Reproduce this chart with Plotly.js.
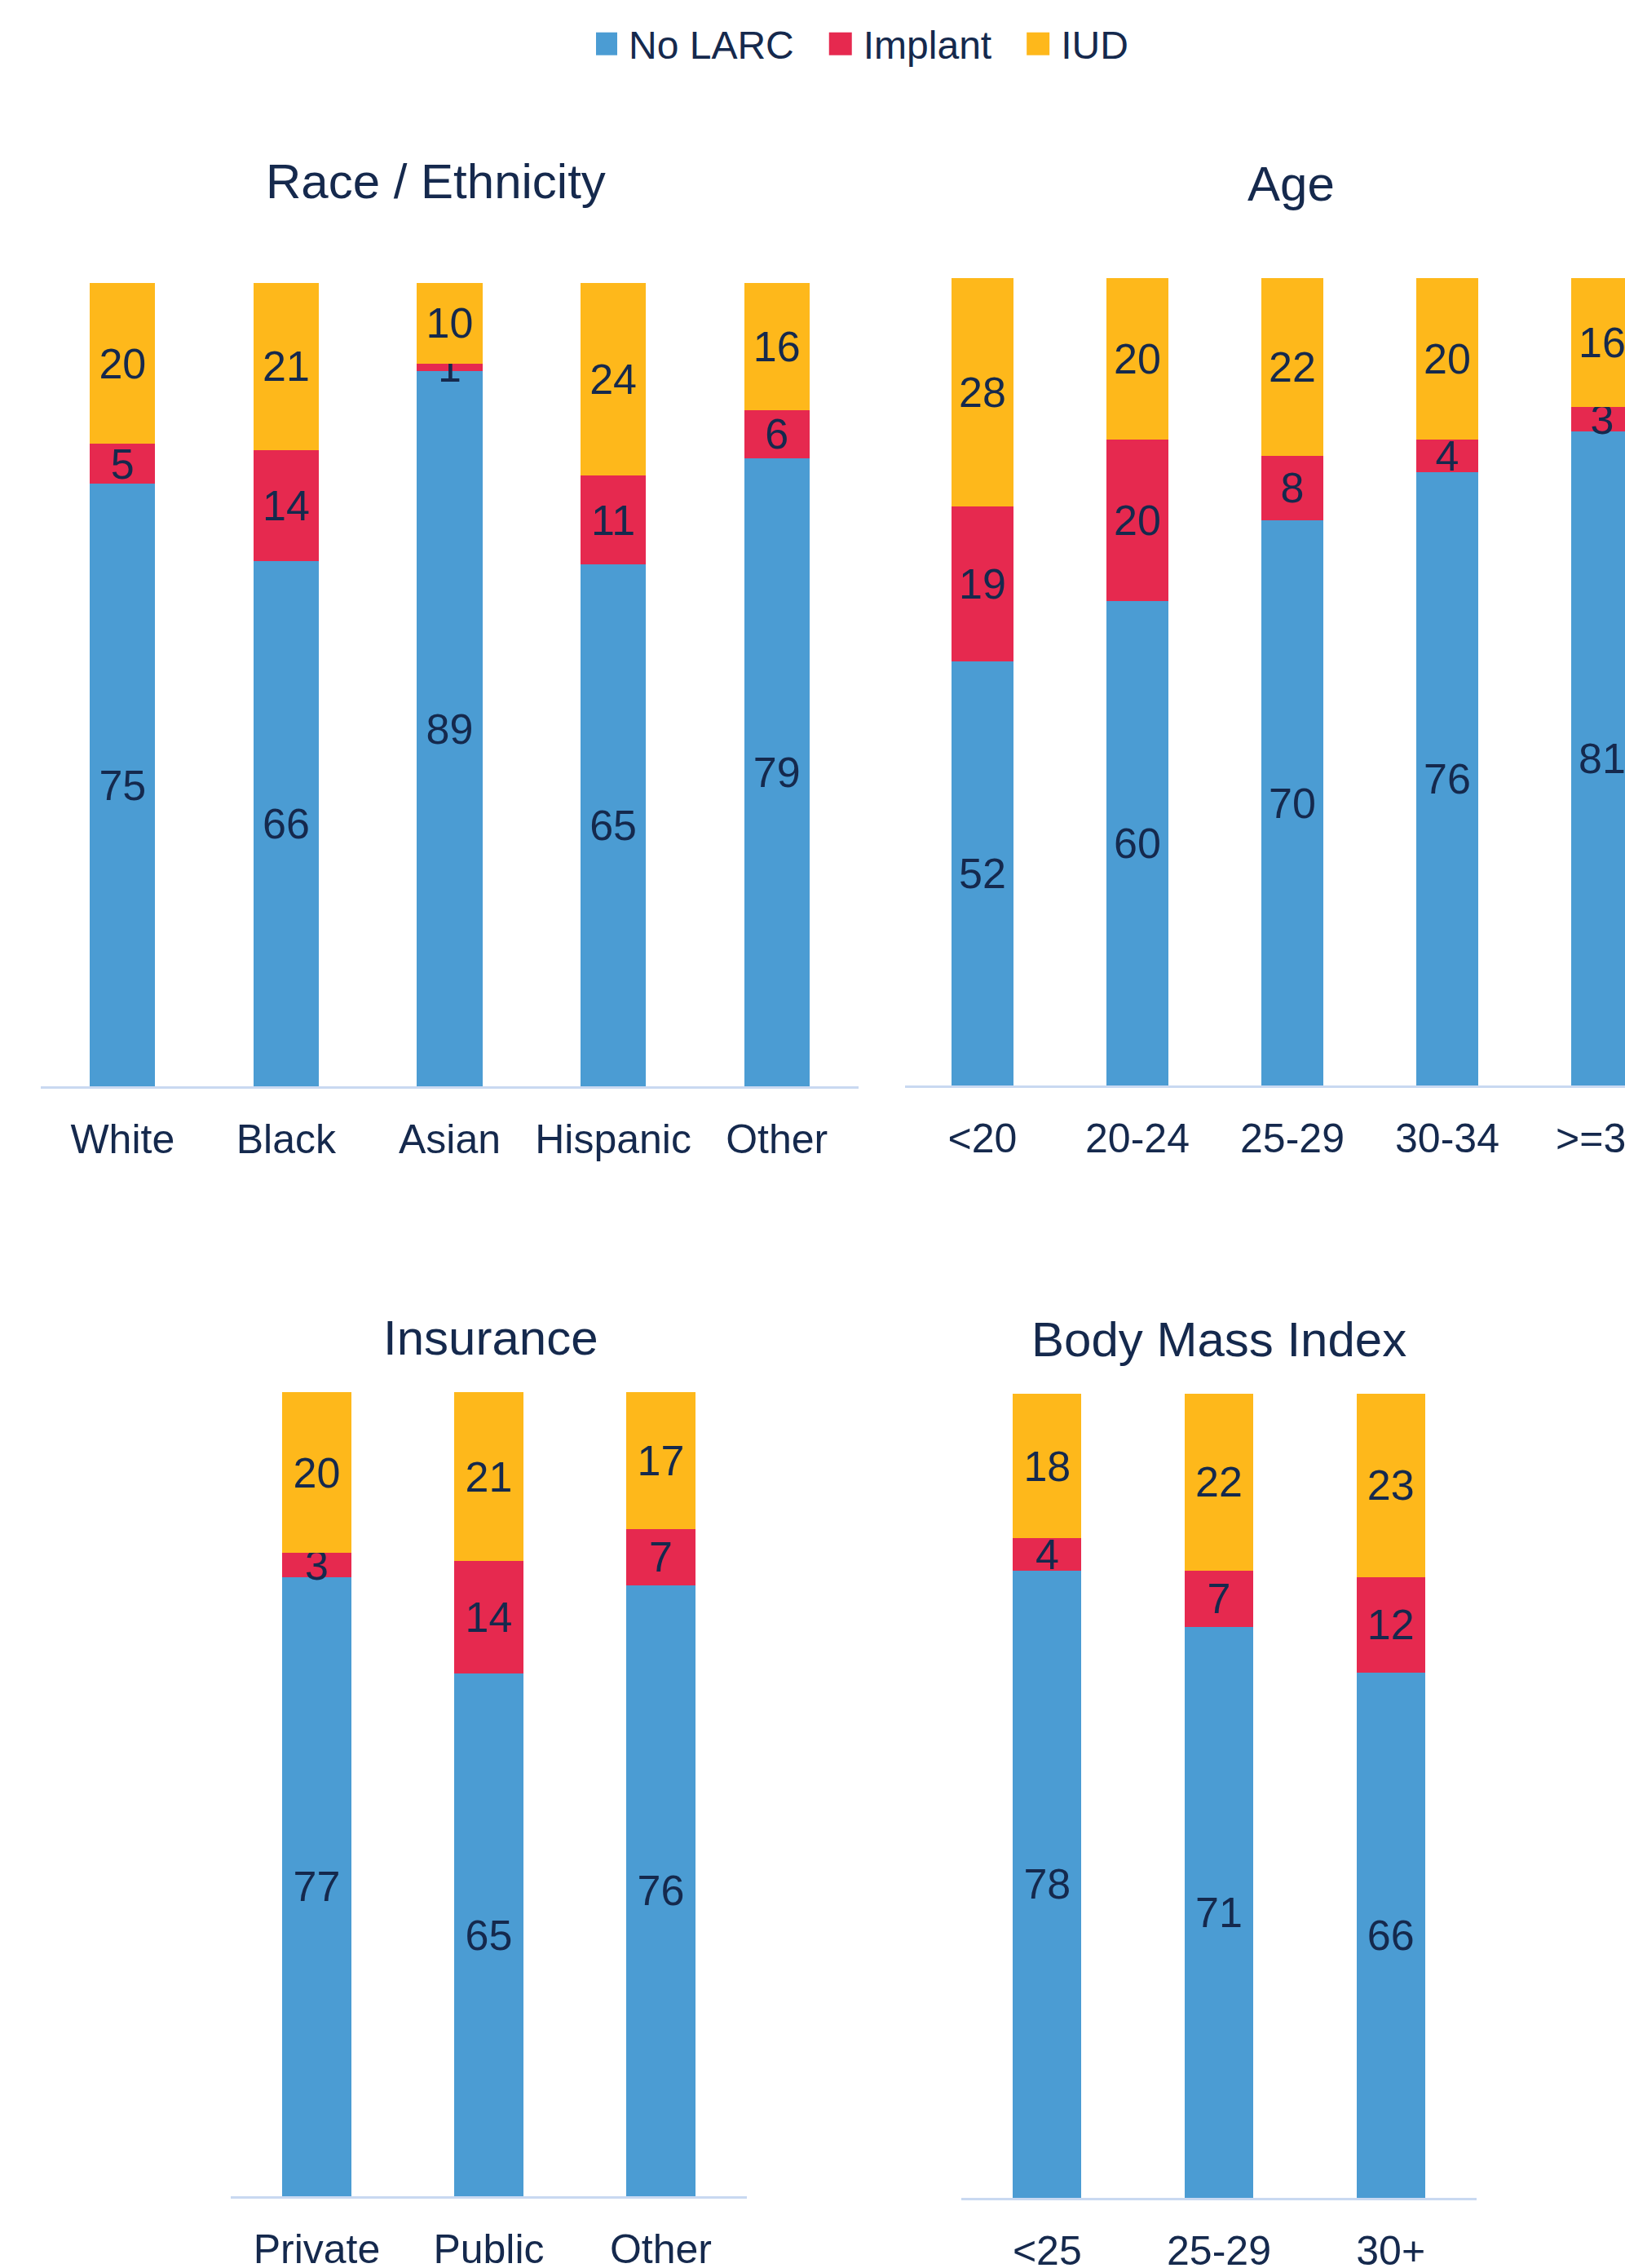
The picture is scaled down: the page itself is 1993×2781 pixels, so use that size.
<!DOCTYPE html>
<html>
<head>
<meta charset="utf-8">
<script src="https://cdn.plot.ly/plotly-3.0.1.min.js"></script>
<style>
html,body{margin:0;padding:0;overflow:hidden;background:#fff;}
#chart{width:2100px;height:2781px;}
</style>
</head>
<body>
<div id="chart"></div>
<script>
// ---- data ----
const seriesNames = ['No LARC', 'Implant', 'IUD'];

const raceCats = ['White', 'Black', 'Asian', 'Hispanic', 'Other'];
const raceNoLarc = [75, 66, 89, 65, 79];
const raceImplant = [5, 14, 1, 11, 6];
const raceIud = [20, 21, 10, 24, 16];

const ageCats = ['<20', '20-24', '25-29', '30-34', '>=35'];
const ageNoLarc = [52, 60, 70, 76, 81];
const ageImplant = [19, 20, 8, 4, 3];
const ageIud = [28, 20, 22, 20, 16];

const insCats = ['Private', 'Public', 'Other'];
const insNoLarc = [77, 65, 76];
const insImplant = [3, 14, 7];
const insIud = [20, 21, 17];

const bmiCats = ['<25', '25-29', '30+'];
const bmiNoLarc = [78, 71, 66];
const bmiImplant = [4, 7, 12];
const bmiIud = [18, 22, 23];

const panelTitles = ['Race / Ethnicity', 'Age', 'Insurance', 'Body Mass Index'];

// ---- styling ----
const W = 2100, H = 2781;
const FONT = 'Liberation Sans, Arial, sans-serif';
const NAVY = '#15294d';
const COLORS = ['#4b9cd3', '#e6294f', '#feb81b'];
const AXISLINE = '#c9d9f1';
const NB = '\u00a0\u00a0\u00a0';
function px(x) { return x / W; }
function py(y) { return 1 - y / H; }

const panels = [
  {cats: raceCats, vals: [raceNoLarc, raceImplant, raceIud], xa: 'x', ya: 'y'},
  {cats: ageCats, vals: [ageNoLarc, ageImplant, ageIud], xa: 'x2', ya: 'y2'},
  {cats: insCats, vals: [insNoLarc, insImplant, insIud], xa: 'x3', ya: 'y3'},
  {cats: bmiCats, vals: [bmiNoLarc, bmiImplant, bmiIud], xa: 'x4', ya: 'y4'}
];

const traces = [];
panels.forEach((p, pi) => {
  p.vals.forEach((v, si) => {
    traces.push({
      type: 'bar',
      // extra non-breaking spaces widen the gap between legend entries
      name: seriesNames[si] + (si < seriesNames.length - 1 ? NB : ''),
      x: p.cats,
      y: v,
      text: v.map(String),
      textposition: 'inside',
      insidetextanchor: 'middle',
      textangle: 0,
      constraintext: 'none',
      cliponaxis: false,
      textfont: {family: FONT, size: 52, color: NAVY},
      marker: {color: COLORS[si], line: {width: 0}},
      xaxis: p.xa,
      yaxis: p.ya,
      showlegend: pi === 0,
      hoverinfo: 'skip'
    });
  });
});

function xAxis(x0, x1, anchor) {
  return {
    domain: [px(x0), px(x1)], anchor: anchor,
    showline: true, linecolor: AXISLINE, linewidth: 3,
    ticks: '', showgrid: false, zeroline: false,
    tickfont: {family: FONT, size: 50, color: NAVY},
    ticklabelstandoff: 19,
    fixedrange: true
  };
}
function yAxis(yTop, yBot, anchor) {
  return {
    domain: [py(yBot), py(yTop)], anchor: anchor,
    range: [0, 100], visible: false, fixedrange: true
  };
}

const titlePos = [[534, 222], [1583, 225], [602, 1640], [1495, 1642]];
const annotations = panelTitles.map((t, i) => ({
  text: t, xref: 'paper', yref: 'paper',
  x: px(titlePos[i][0]), y: py(titlePos[i][1]),
  xanchor: 'center', yanchor: 'middle', showarrow: false,
  font: {family: FONT, size: 60, color: NAVY}
}));

const layout = {
  width: W, height: H,
  margin: {l: 0, r: 0, t: 0, b: 0},
  paper_bgcolor: '#fff', plot_bgcolor: '#fff',
  barmode: 'stack', barnorm: 'percent', bargap: 0.6,
  font: {family: FONT, color: NAVY},
  uniformtext: {mode: 'show', minsize: 50},
  showlegend: true,
  legend: {
    orientation: 'h', x: px(1060), xanchor: 'center', y: py(54), yanchor: 'middle',
    font: {family: FONT, size: 48, color: NAVY}, traceorder: 'normal',
    itemwidth: 30, itemclick: false, itemdoubleclick: false
  },
  xaxis: xAxis(50, 1053, 'y'),
  yaxis: yAxis(347, 1332, 'x'),
  xaxis2: xAxis(1110, 2060, 'y2'),
  yaxis2: yAxis(341, 1331, 'x2'),
  xaxis3: xAxis(283, 916, 'y3'),
  yaxis3: yAxis(1707, 2693, 'x3'),
  xaxis4: xAxis(1179, 1811, 'y4'),
  yaxis4: yAxis(1709, 2695, 'x4'),
  annotations: annotations
};

Plotly.newPlot('chart', traces, layout, {displayModeBar: false, staticPlot: true}).then(gd => {
  // enlarge legend swatches to the reference's larger square markers
  gd.querySelectorAll('.legend .legendpoints path').forEach(p => {
    p.setAttribute('d', 'M6,14H-22V-14H6Z');
  });
});
</script>
</body>
</html>
